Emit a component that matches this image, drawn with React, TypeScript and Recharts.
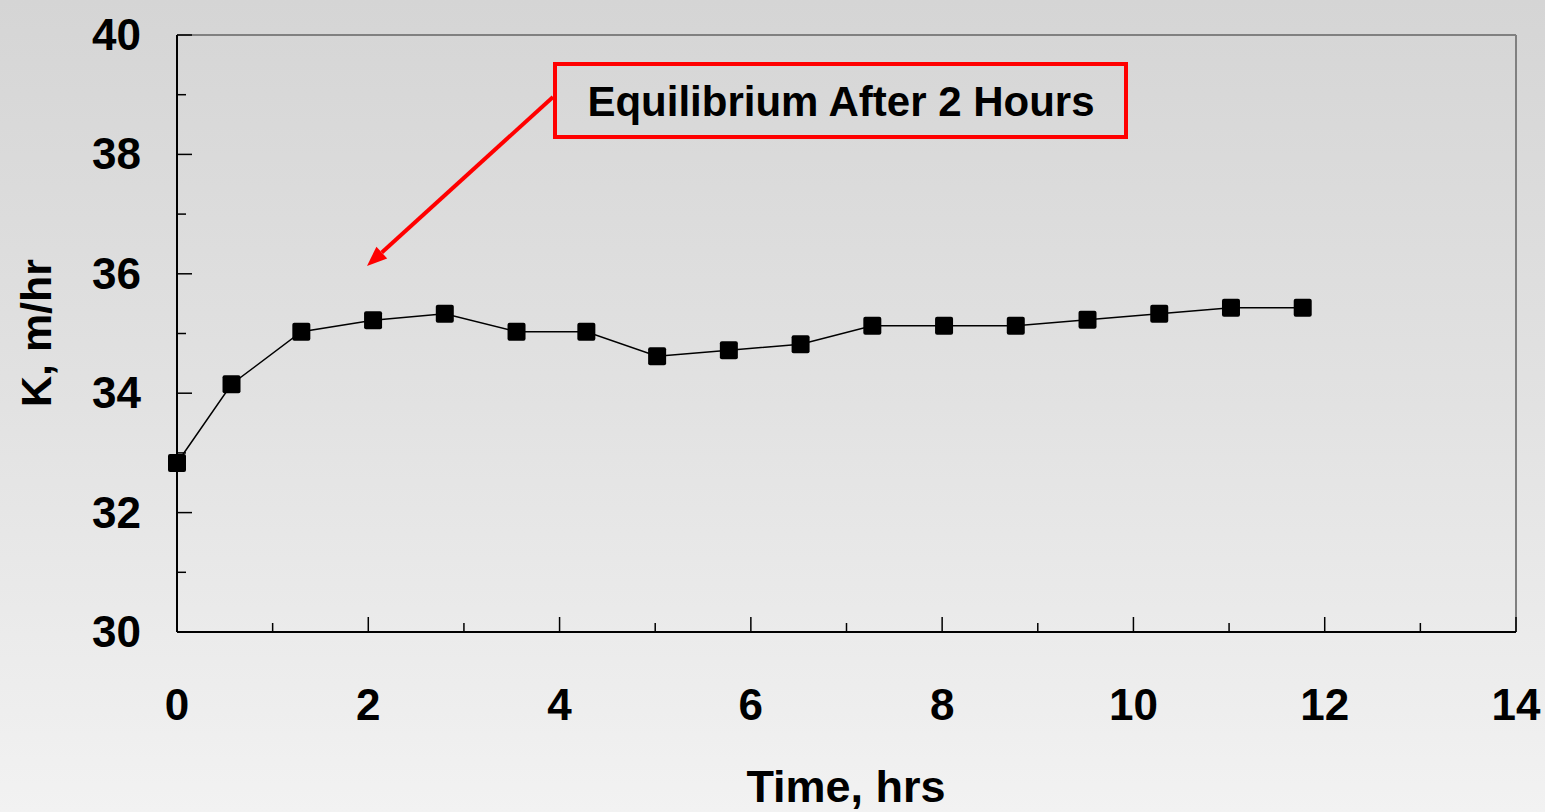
import React from 'react';
import { LineChart, Line, XAxis, YAxis, ReferenceLine } from 'recharts';

// hours
const timeHrs = [0, 0.57, 1.3, 2.05, 2.8, 3.55, 4.28, 5.02, 5.77, 6.52, 7.27, 8.02, 8.77, 9.52, 10.27, 11.02, 11.77];
// K, m/hr
const kValues = [32.83, 34.15, 35.03, 35.22, 35.33, 35.03, 35.03, 34.62, 34.72, 34.82, 35.13, 35.13, 35.13, 35.23, 35.33, 35.43, 35.43];

const xTicks = [0, 1, 2, 3, 4, 5, 6, 7, 8, 9, 10, 11, 12, 13, 14];
const yTicks = [30, 31, 32, 33, 34, 35, 36, 37, 38, 39, 40];

const xTitle = 'Time, hrs';
const yTitle = 'K, m/hr';
const note = 'Equilibrium After 2 Hours';

const data = timeHrs.map((t, i) => ({ t, k: kValues[i] }));

const FONT = '"Liberation Sans", Arial, Helvetica, sans-serif';
const W = 1545;
const H = 812;

function XTick({ x, y, payload }: any) {
  const major = payload.value % 2 === 0;
  return (
    <g>
      <line x1={x} y1={y} x2={x} y2={y - (major ? 15 : 9)} stroke="#000" strokeWidth={1.5} />
      {major && (
        <text x={x} y={y + 88} textAnchor="middle" fontFamily={FONT} fontWeight="bold" fontSize={44} fill="#000">
          {payload.value}
        </text>
      )}
    </g>
  );
}

function YTick({ x, y, payload }: any) {
  const major = payload.value % 2 === 0;
  return (
    <g>
      <line x1={x} y1={y} x2={x + (major ? 15 : 9)} y2={y} stroke="#000" strokeWidth={1.5} />
      {major && (
        <text x={x - 36} y={y + 15} textAnchor="end" fontFamily={FONT} fontWeight="bold" fontSize={44} fill="#000">
          {payload.value}
        </text>
      )}
    </g>
  );
}

function SquareDot({ cx, cy }: any) {
  if (cx == null || cy == null) return null;
  return <rect x={cx - 9} y={cy - 9} width={18} height={18} rx={2} fill="#000" />;
}

export default function App() {
  // arrow head geometry
  const tip = { x: 367, y: 266 };
  const from = { x: 553, y: 97 };
  const dx = tip.x - from.x;
  const dy = tip.y - from.y;
  const len = Math.hypot(dx, dy);
  const ux = dx / len;
  const uy = dy / len;
  const bx = tip.x - ux * 20;
  const by = tip.y - uy * 20;
  const head = `${tip.x},${tip.y} ${bx - uy * 8},${by + ux * 8} ${bx + uy * 8},${by - ux * 8}`;

  return (
    <div
      style={{
        position: 'absolute',
        left: 0,
        top: 0,
        width: W,
        height: H,
        background: 'linear-gradient(to bottom, #d5d5d5 0%, #e2e2e2 50%, #f2f2f2 100%)',
        overflow: 'hidden',
      }}
    >
      <LineChart width={W} height={H} data={data} margin={{ top: 35, right: 29, bottom: 0, left: 0 }}>
        <ReferenceLine y={40} stroke="#808080" strokeWidth={2} />
        <ReferenceLine x={14} stroke="#808080" strokeWidth={2} />
        <XAxis
          dataKey="t"
          type="number"
          domain={[0, 14]}
          ticks={xTicks}
          interval={0}
          height={180}
          tickSize={0}
          tickMargin={0}
          tickLine={false}
          axisLine={{ stroke: '#000', strokeWidth: 2 }}
          tick={<XTick />}
        />
        <YAxis
          type="number"
          domain={[30, 40]}
          ticks={yTicks}
          interval={0}
          width={177}
          tickSize={0}
          tickMargin={0}
          tickLine={false}
          axisLine={{ stroke: '#000', strokeWidth: 2 }}
          tick={<YTick />}
        />
        <Line
          type="linear"
          dataKey="k"
          stroke="#000"
          strokeWidth={1.5}
          dot={<SquareDot />}
          activeDot={false}
          isAnimationActive={false}
        />
      </LineChart>
      <svg
        width={W}
        height={H}
        style={{ position: 'absolute', left: 0, top: 0, pointerEvents: 'none' }}
      >
        <text x={846} y={802} textAnchor="middle" fontFamily={FONT} fontWeight="bold" fontSize={45} fill="#000">
          {xTitle}
        </text>
        <text
          transform="translate(51,333) rotate(-90)"
          textAnchor="middle"
          fontFamily={FONT}
          fontWeight="bold"
          fontSize={43}
          fill="#000"
        >
          {yTitle}
        </text>
        <line x1={from.x} y1={from.y} x2={bx} y2={by} stroke="#ff0000" strokeWidth={4} />
        <polygon points={head} fill="#ff0000" />
        <rect x={555} y={64} width={571} height={73} fill="none" stroke="#ff0000" strokeWidth={4} />
        <text x={841} y={116} textAnchor="middle" fontFamily={FONT} fontWeight="bold" fontSize={42} fill="#000">
          {note}
        </text>
      </svg>
    </div>
  );
}
